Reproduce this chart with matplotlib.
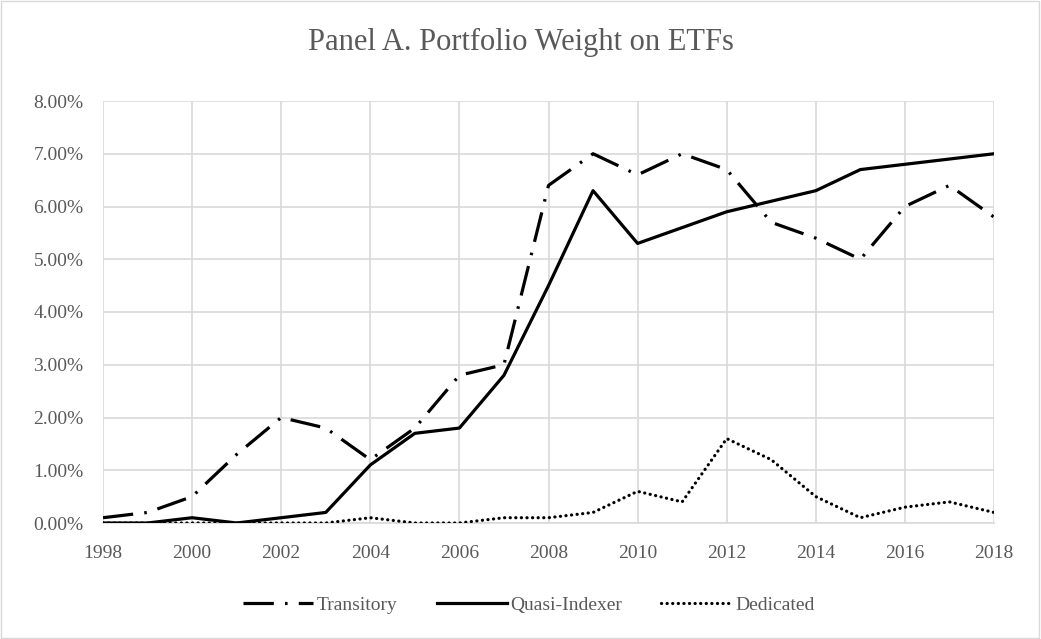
import numpy as np
import matplotlib.pyplot as plt
from matplotlib.ticker import FuncFormatter
from matplotlib.patches import Rectangle

years = list(range(1998, 2019))
transitory = [0.1, 0.2, 0.5, 1.3, 2.0, 1.8, 1.2, 1.8, 2.8, 3.0, 6.4,
              7.0, 6.6, 7.0, 6.7, 5.7, 5.4, 5.0, 6.0, 6.4, 5.8]
quasi_indexer = [0.0, 0.0, 0.1, 0.0, 0.1, 0.2, 1.1, 1.7, 1.8, 2.8, 4.5,
                 6.3, 5.3, 5.6, 5.9, 6.1, 6.3, 6.7, 6.8, 6.9, 7.0]
dedicated = [0.0, 0.0, 0.0, 0.0, 0.0, 0.0, 0.1, 0.0, 0.0, 0.1, 0.1,
             0.2, 0.6, 0.4, 1.6, 1.2, 0.5, 0.1, 0.3, 0.4, 0.2]

plt.rcParams['font.family'] = ['Liberation Serif', 'DejaVu Serif']
grey = '#595959'
gridc = '#d9d9d9'

fig = plt.figure(figsize=(10.41, 6.39), dpi=100)
ax = fig.add_axes([103/1041, 1-523/639, (994-103)/1041, (523-101)/639])

ax.plot(years, transitory, color='black', lw=2.3, zorder=3,
        linestyle=(0, (9.5, 3.5, 0.8, 3.5)), label='Transitory')
ax.plot(years, quasi_indexer, color='black', lw=2.3, zorder=3,
        label='Quasi-Indexer')
ax.plot(years, dedicated, color='black', lw=2.3, zorder=3,
        linestyle=(0, (0.05, 1.7)), dash_capstyle='round', label='Dedicated')

ax.set_xlim(1998, 2018)
ax.set_ylim(0, 8)
ax.set_xticks(range(1998, 2019, 2))
ax.set_yticks(np.arange(0, 9, 1))
ax.yaxis.set_major_formatter(FuncFormatter(lambda v, p: f'{v:.2f}%'))
ax.grid(True, color=gridc, lw=1.2)
ax.set_axisbelow(True)
for s in ax.spines.values():
    s.set_visible(False)
ax.spines['bottom'].set_visible(True)
ax.spines['bottom'].set_color(gridc)
ax.spines['bottom'].set_linewidth(1.2)
ax.tick_params(length=0, colors=grey, labelsize=14)
ax.tick_params(axis='x', pad=16)
ax.tick_params(axis='y', pad=14)

fig.text(0.5, 1-42/639, 'Panel A. Portfolio Weight on ETFs', ha='center',
         va='center', fontsize=22, color=grey)

fig.legend(loc='center', bbox_to_anchor=(529/1041, 1-605/639), ncol=3,
           frameon=False, fontsize=14, labelcolor=grey, handlelength=3.6,
           columnspacing=2.0, handletextpad=0.2)

fig.patches.append(Rectangle((0.001, 0.001), 0.997, 0.997, transform=fig.transFigure,
                             fill=False, edgecolor=gridc, lw=1))

fig.savefig('out.png', dpi=100)
